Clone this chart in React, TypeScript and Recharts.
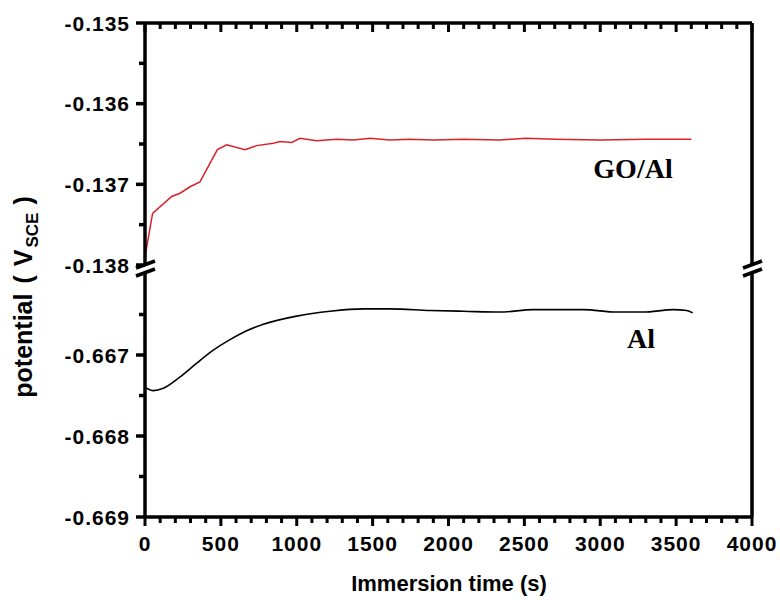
import { Line, LineChart, XAxis, YAxis } from "recharts";

// GO/Al (upper panel) — immersion time (s) and potential (V vs SCE)
const goAlTime = [0, 50, 176, 231, 297, 362, 477, 538, 659, 736, 846, 890, 967, 1021, 1131, 1263, 1373, 1483, 1614, 1746, 1900, 2100, 2339, 2510, 2700, 3000, 3300, 3600];
const goAlPotential = [
  -0.1379, -0.13736, -0.13715, -0.13711, -0.13703, -0.13697, -0.13657, -0.13651, -0.13657, -0.13652,
  -0.13649, -0.13647, -0.13648, -0.13643, -0.13646, -0.13644, -0.13645, -0.13643, -0.13645, -0.13644,
  -0.13645, -0.13644, -0.13645, -0.13643, -0.13644, -0.13645, -0.13644, -0.13644,
];

// Al (lower panel)
const alTime = [0, 55, 121, 231, 341, 450, 560, 670, 780, 1000, 1219, 1439, 1614, 1878, 2100, 2339, 2559, 2889, 3108, 3284, 3482, 3570, 3609];
const alPotential = [
  -0.6674, -0.66744, -0.66741, -0.66727, -0.6671, -0.66694, -0.66681, -0.6667, -0.66662, -0.66652,
  -0.66646, -0.66643, -0.66643, -0.66645, -0.66646, -0.66647, -0.66644, -0.66644, -0.66647, -0.66647,
  -0.66644, -0.66645, -0.66648,
];

const timeTicks = [
  0, 100, 200, 300, 400, 500, 600, 700, 800, 900, 1000, 1100, 1200, 1300, 1400, 1500, 1600, 1700, 1800, 1900, 2000,
  2100, 2200, 2300, 2400, 2500, 2600, 2700, 2800, 2900, 3000, 3100, 3200, 3300, 3400, 3500, 3600, 3700, 3800, 3900, 4000,
];
const upperTicks = [-0.138, -0.1375, -0.137, -0.1365, -0.136, -0.1355, -0.135];
const lowerTicks = [-0.669, -0.6685, -0.668, -0.6675, -0.667, -0.6665];

const goAlData = goAlTime.map((t, i) => ({ t, v: goAlPotential[i] }));
const alData = alTime.map((t, i) => ({ t, v: alPotential[i] }));

const SANS = "'Liberation Sans', Arial, sans-serif";
const SERIF = "'Liberation Serif', 'Times New Roman', serif";
const AXIS = { stroke: "#000", strokeWidth: 3.5 };

const isMajorY = (v: number) => Math.abs(v * 1000 - Math.round(v * 1000)) < 1e-6;

const LeftTick = (p: any) => {
  const major = isMajorY(p.payload.value);
  return (
    <g>
      <line x1={p.x - (major ? 9 : 6)} x2={p.x} y1={p.y} y2={p.y} stroke="#000" strokeWidth={3.5} />
      {major && (
        <text x={p.x - 15} y={p.y} dy="0.36em" textAnchor="end" fontFamily={SANS} fontWeight="bold" fontSize={21} letterSpacing={1} fill="#000">
          {p.payload.value.toFixed(3)}
        </text>
      )}
    </g>
  );
};

const RightTick = (p: any) => {
  const major = isMajorY(p.payload.value);
  return <line x1={p.x - (major ? 9 : 6)} x2={p.x} y1={p.y} y2={p.y} stroke="#000" strokeWidth={3.5} />;
};

const TopTick = (p: any) => {
  const major = p.payload.value % 500 === 0;
  return <line x1={p.x} x2={p.x} y1={p.y} y2={p.y + (major ? 9 : 6)} stroke="#000" strokeWidth={3} />;
};

const BottomTick = (p: any) => {
  const major = p.payload.value % 500 === 0;
  return (
    <g>
      <line x1={p.x} x2={p.x} y1={p.y} y2={p.y + (major ? 9 : 6)} stroke="#000" strokeWidth={3} />
      {major && (
        <text x={p.x} y={p.y + 34} textAnchor="middle" fontFamily={SANS} fontWeight="bold" fontSize={21} letterSpacing={1} fill="#000">
          {p.payload.value}
        </text>
      )}
    </g>
  );
};

const BreakMark = ({ x }: { x: number }) => (
  <g stroke="#000" strokeWidth={3.5}>
    <line x1={x - 9} y1={268} x2={x + 10} y2={261} />
    <line x1={x - 9} y1={276} x2={x + 10} y2={269} />
  </g>
);

export default function App() {
  return (
    <div style={{ position: "absolute", left: 0, top: 0, width: 780, height: 600, background: "#fff" }}>
      <div style={{ position: "absolute", left: 0, top: 0 }}>
        <LineChart width={780} height={300} margin={{ top: 22, right: 27, bottom: 35, left: 0 }}>
          <XAxis
            dataKey="t"
            type="number"
            orientation="top"
            height={1}
            domain={[0, 4000]}
            ticks={timeTicks}
            interval={0}
            tickLine={false}
            tickSize={0}
            tickMargin={0}
            axisLine={AXIS}
            tick={TopTick}
          />
          <YAxis
            type="number"
            domain={[-0.138, -0.135]}
            allowDataOverflow
            ticks={upperTicks}
            interval={0}
            width={145}
            tickLine={false}
            tickSize={0}
            tickMargin={0}
            axisLine={AXIS}
            tick={LeftTick}
          />
          <YAxis
            yAxisId="r"
            orientation="right"
            type="number"
            domain={[-0.138, -0.135]}
            ticks={upperTicks}
            interval={0}
            width={1}
            tickLine={false}
            tickSize={0}
            tickMargin={0}
            axisLine={AXIS}
            tick={RightTick}
          />
          <Line data={goAlData} dataKey="v" type="linear" stroke="#d8232a" strokeWidth={1.5} dot={false} isAnimationActive={false} />
        </LineChart>
      </div>
      <div style={{ position: "absolute", left: 0, top: 0 }}>
        <LineChart width={780} height={600} margin={{ top: 274, right: 27, bottom: 33, left: 0 }}>
          <XAxis
            dataKey="t"
            type="number"
            height={50}
            domain={[0, 4000]}
            ticks={timeTicks}
            interval={0}
            tickLine={false}
            tickSize={0}
            tickMargin={0}
            axisLine={AXIS}
            tick={BottomTick}
          />
          <YAxis
            type="number"
            domain={[-0.669, -0.666]}
            allowDataOverflow
            ticks={lowerTicks}
            interval={0}
            width={145}
            tickLine={false}
            tickSize={0}
            tickMargin={0}
            axisLine={AXIS}
            tick={LeftTick}
          />
          <YAxis
            yAxisId="r"
            orientation="right"
            type="number"
            domain={[-0.669, -0.666]}
            ticks={lowerTicks}
            interval={0}
            width={1}
            tickLine={false}
            tickSize={0}
            tickMargin={0}
            axisLine={AXIS}
            tick={RightTick}
          />
          <Line data={alData} dataKey="v" type="monotone" stroke="#000" strokeWidth={1.6} dot={false} isAnimationActive={false} />
        </LineChart>
      </div>
      <svg width={780} height={600} style={{ position: "absolute", left: 0, top: 0, pointerEvents: "none" }}>
        <BreakMark x={145} />
        <BreakMark x={752} />
        <text transform="translate(32, 297) rotate(-90)" textAnchor="middle" fontFamily={SANS} fontWeight="bold" fontSize={25} fill="#000">
          potential
          <tspan dx={10}>(</tspan>
          <tspan dx={9}>V</tspan>
          <tspan dx={2} dy={6} fontSize={17}>SCE</tspan>
          <tspan dx={8} dy={-6}>)</tspan>
        </text>
        <text x={449} y={591} textAnchor="middle" fontFamily={SANS} fontWeight="bold" fontSize={22} fill="#000">
          Immersion time (s)
        </text>
        <text x={633} y={178} textAnchor="middle" fontFamily={SERIF} fontWeight="bold" fontSize={28} fill="#000">
          GO/Al
        </text>
        <text x={641} y={348} textAnchor="middle" fontFamily={SERIF} fontWeight="bold" fontSize={28} fill="#000">
          Al
        </text>
      </svg>
    </div>
  );
}
